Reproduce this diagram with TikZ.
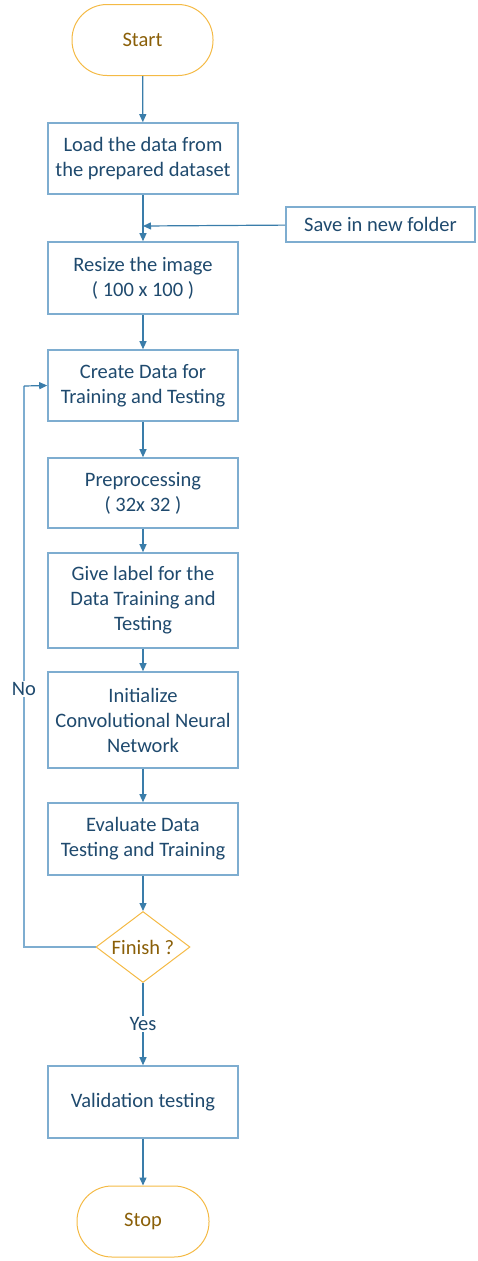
\documentclass[tikz,border=0pt]{standalone}
\usepackage{fontspec}
\setmainfont{Carlito}
\usetikzlibrary{arrows.meta,shapes.geometric}
\definecolor{boxline}{HTML}{7EADD0}
\definecolor{arrowc}{HTML}{3A7DAA}
\definecolor{txt}{HTML}{1F4A6E}
\definecolor{orangeline}{HTML}{F4BA45}
\definecolor{orangetxt}{HTML}{8A5F08}
\tikzset{
  fnt/.style={font=\fontsize{20.5}{25}\selectfont},
  procbox/.style={fnt, draw=boxline, line width=1.6pt, fill=white, text=txt, minimum width=190pt, align=center, inner sep=2pt},
  termbox/.style={fnt, draw=orangeline, line width=1pt, rounded corners=35pt, text=orangetxt, minimum height=71pt},
  decbox/.style={fnt, draw=orangeline, line width=1pt, diamond, aspect=1.32, text=orangetxt, minimum width=94pt, minimum height=71pt, inner sep=0pt},
  flow/.style={draw=arrowc, line width=1.2pt, -{Triangle[width=7pt,length=8pt]}},
  plain/.style={draw=boxline, line width=1.6pt},
  lbl/.style={fnt, fill=white, text=txt, inner sep=1pt}
}
\begin{document}
\begin{tikzpicture}[x=1pt,y=-1pt]
\useasboundingbox (0,0) rectangle (477,1261);
\node[termbox, minimum width=141pt] (start) at (142.5,40) {Start};
\node[procbox, minimum height=71pt] (load) at (143,158.5) {Load the data from\\the prepared dataset};
\node[procbox, minimum width=189pt, minimum height=35pt] (save) at (380.5,224.5) {Save in new folder};
\node[procbox, minimum height=72pt] (resize) at (143,278) {Resize the image\\( 100 x 100 )};
\node[procbox, minimum height=71pt] (create) at (143,385.5) {Create Data for\\Training and Testing};
\node[procbox, minimum height=70pt] (prep) at (143,493) {Preprocessing\\( 32x 32 )};
\node[procbox, minimum height=95pt] (label) at (143,600.5) {Give label for the\\Data Training and\\Testing};
\node[procbox, minimum height=96pt] (init) at (143,720) {Initialize\\Convolutional Neural\\Network};
\node[procbox, minimum height=72pt] (eval) at (143,839) {Evaluate Data\\Testing and Training};
\node[decbox] (fin) at (143,947) {Finish ?};
\node[procbox, minimum height=72pt] (valid) at (143,1102) {Validation testing};
\node[termbox, minimum width=132pt] (stop) at (143,1221.5) {Stop};
\coordinate (join) at (143,226);
\coordinate (cl) at (24,947);
\coordinate (ct) at (24,386);

\draw[flow] (start) -- (load);
\draw[flow] (load) -- (resize);
\draw[flow] (save) -- (join);
\draw[flow] (resize) -- (create);
\draw[flow] (create) -- (prep);
\draw[flow] (prep) -- (label);
\draw[flow] (label) -- (init);
\draw[flow] (init) -- (eval);
\draw[flow] (eval) -- (fin);
\draw[flow] (fin) -- node[lbl, pos=0.5] (yes) {Yes} (valid);
\draw[flow] (valid) -- (stop);
\draw[plain] (fin.west) -- (cl) -- node[lbl, pos=0.46] (no) {No} (ct);
\draw[flow] (ct) -- (create.west);
\end{tikzpicture}
\end{document}
